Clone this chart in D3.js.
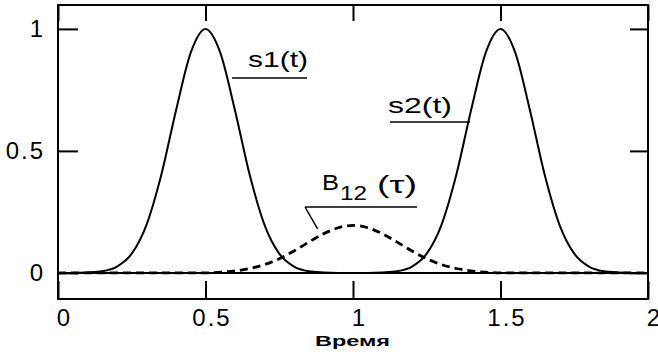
<!DOCTYPE html>
<html><head><meta charset="utf-8">
<script src="https://cdn.jsdelivr.net/npm/d3@7"></script>
<style>body{margin:0;background:#fff}svg{display:block}</style>
</head><body>
<svg id="c" width="658" height="354"></svg>
<script>
const times = [0,0.05,0.1,0.15,0.2,0.25,0.3,0.35,0.4,0.45,0.5,0.55,0.6,0.65,0.7,0.75,0.8,0.85,0.9,0.95,1,1.05,1.1,1.15,1.2,1.25,1.3,1.35,1.4,1.45,1.5,1.55,1.6,1.65,1.7,1.75,1.8,1.85,1.9,1.95,2];
const s1 = [0,0,0.002,0.007,0.026,0.079,0.197,0.401,0.666,0.903,1,0.903,0.666,0.401,0.197,0.079,0.026,0.007,0.002,0,0,0,0,0,0,0,0,0,0,0,0,0,0,0,0,0,0,0,0,0,0];
const s2 = [0,0,0,0,0,0,0,0,0,0,0,0,0,0,0,0,0,0,0,0,0,0,0.002,0.007,0.026,0.079,0.197,0.401,0.666,0.903,1,0.903,0.666,0.401,0.197,0.079,0.026,0.007,0.002,0,0];
const b12 = [0,0,0,0,0,0,0,0,0,0,0,0.003,0.008,0.018,0.034,0.058,0.09,0.126,0.16,0.185,0.195,0.185,0.16,0.126,0.09,0.058,0.034,0.018,0.008,0.003,0,0,0,0,0,0,0,0,0,0,0];
const xTicks = [0,0.5,1,1.5,2];
const yTicks = [0,0.5,1];
const xLabel = "Время";

const svg = d3.select("#c");
const x = d3.scaleLinear().domain([0,2]).range([58,648]);
const y = d3.scaleLinear().domain([-0.107,1.098]).range([299,5]);
const font = "'Liberation Sans', Arial, sans-serif";

function styleAxis(g){
  g.select(".domain").remove();
  g.selectAll(".tick line").attr("stroke","#000").attr("stroke-width",2);
  g.selectAll(".tick text").attr("fill","#000").style("font-family",font).style("font-size","24px").style("letter-spacing","2px");
}
svg.append("g").attr("transform","translate(0,299)")
  .call(d3.axisBottom(x).tickValues(xTicks).tickSize(-18).tickPadding(10).tickFormat(d3.format("")))
  .call(styleAxis).selectAll(".tick text").attr("dx",6);
svg.append("g").attr("transform","translate(0,5)")
  .call(d3.axisTop(x).tickValues(xTicks).tickSize(-16).tickFormat(""))
  .call(styleAxis);
svg.append("g").attr("transform","translate(58,0)")
  .call(d3.axisLeft(y).tickValues(yTicks).tickSize(-20).tickPadding(13).tickFormat(d3.format("")))
  .call(styleAxis);
svg.append("g").attr("transform","translate(648,0)")
  .call(d3.axisRight(y).tickValues(yTicks).tickSize(-18).tickFormat(""))
  .call(styleAxis);

svg.append("rect").attr("x",58).attr("y",5).attr("width",590).attr("height",294)
  .attr("fill","none").attr("stroke","#000").attr("stroke-width",2);

const line = d3.line().x((d,i)=>x(times[i])).y(d=>y(d)).curve(d3.curveMonotoneX);
svg.append("path").datum(s1).attr("d",line).attr("fill","none").attr("stroke","#000").attr("stroke-width",2);
svg.append("path").datum(s2).attr("d",line).attr("fill","none").attr("stroke","#000").attr("stroke-width",2);
svg.append("path").datum(b12).attr("d",line).attr("fill","none").attr("stroke","#000").attr("stroke-width",2.8).attr("stroke-dasharray","8,5");

function label(txt, x0, y0, w, size, bold){
  return svg.append("text").attr("x",x0).attr("y",y0).text(txt)
    .attr("textLength",w).attr("lengthAdjust","spacingAndGlyphs")
    .style("font-family",font).style("font-size",size+"px").style("font-weight",bold?"bold":"normal");
}
// s1 label
label("s1(t)", 248, 67, 60, 22);
svg.append("line").attr("x1",x(0.59)).attr("x2",307).attr("y1",78).attr("y2",78).attr("stroke","#000").attr("stroke-width",1.5);
// s2 label
label("s2(t)", 388, 113, 64, 22);
svg.append("line").attr("x1",390).attr("x2",x(1.397)).attr("y1",122).attr("y2",122).attr("stroke","#000").attr("stroke-width",1.5);
// B12 label
label("B", 322, 190, 17, 22);
label("12", 340, 200, 27, 20);
label("(τ)", 377, 193, 40, 23);
svg.append("line").attr("x1",305).attr("x2",417).attr("y1",207).attr("y2",207).attr("stroke","#000").attr("stroke-width",1.5);
svg.append("line").attr("x1",305).attr("y1",207).attr("x2",x(0.88)).attr("y2",y(0.18)).attr("stroke","#000").attr("stroke-width",1.5);

// x label
label(xLabel, 315, 346, 75, 14, true);
</script>
</body></html>
